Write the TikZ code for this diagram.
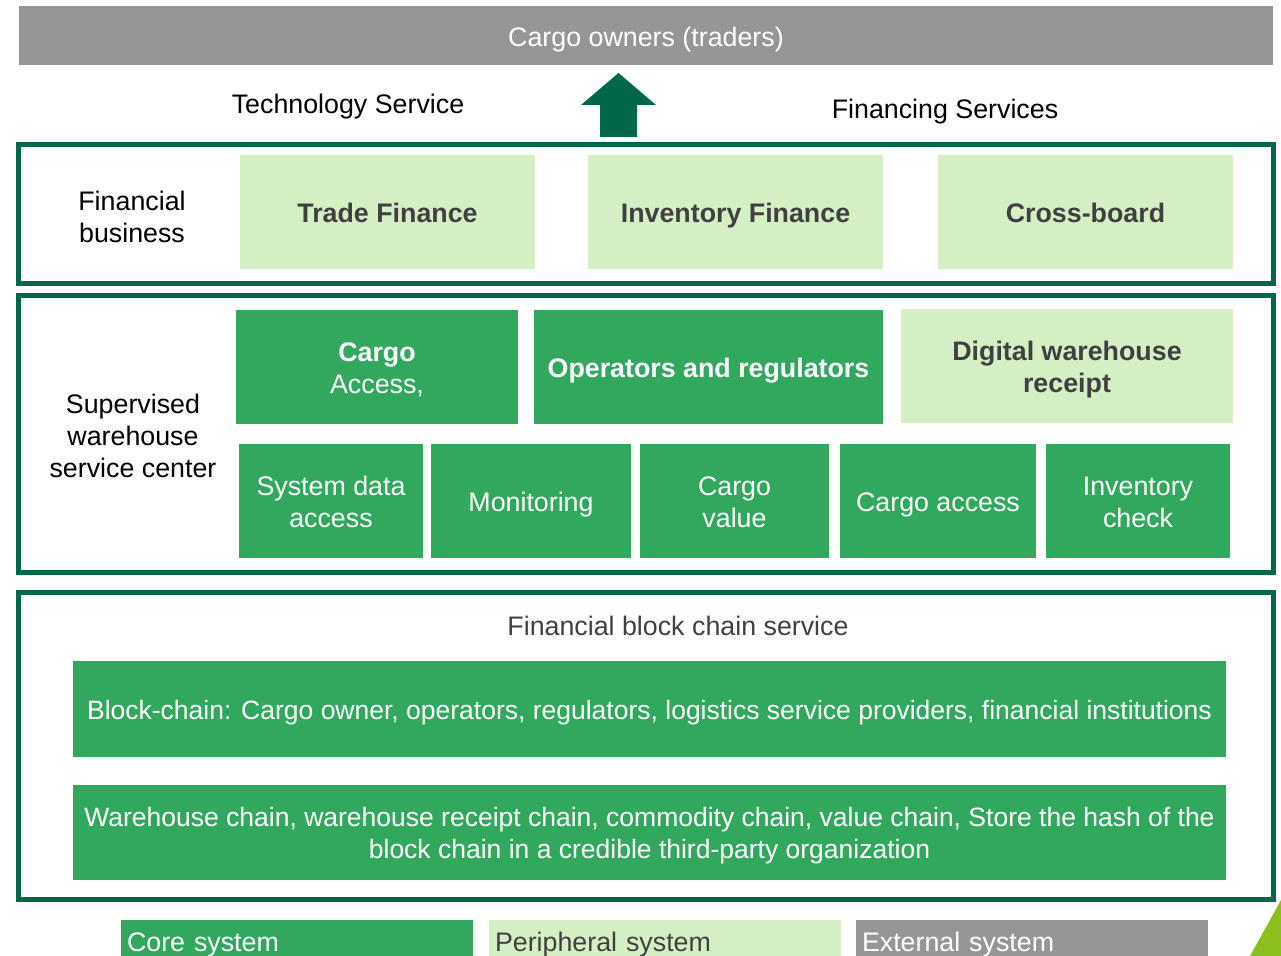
\documentclass[tikz,border=0pt]{standalone}
\usepackage{fontspec}
\setmainfont{Liberation Sans}
\definecolor{coregreen}{HTML}{32A85F}
\definecolor{periphgreen}{HTML}{D4EFC4}
\definecolor{extgray}{HTML}{969696}
\definecolor{framegreen}{HTML}{00684A}
\definecolor{labelgray}{HTML}{404040}
\definecolor{limegreen}{HTML}{8CBE1E}
\newcommand\boxstrut{\rule[-3pt]{0pt}{16.7pt}}
\begin{document}
\begin{tikzpicture}
[x=0.5pt, y=-0.5pt, line width=2.5pt,
every node/.style={font=\fontsize{13.4}{16}\selectfont, align=center, inner sep=0pt, outer sep=0pt,
execute at begin node=\boxstrut, execute at end node=\boxstrut},
twolines/.style={text height=29.5pt},
threelines/.style={text height=45.5pt},
oneline/.style={},
core/.style={fill=coregreen, text=white, minimum height=57pt},
periph/.style={fill=periphgreen, text=labelgray, font=\fontsize{13.4}{16}\selectfont\bfseries, minimum height=57pt},
layer/.style={draw=framegreen},
keybox/.style={anchor=north west, minimum width=176pt, minimum height=20.5pt, inner xsep=3pt, text width=170pt, align=left}]
\useasboundingbox (0,0) rectangle (1281,956);
\clip (0,0) rectangle (1281,956);
% cargo owners
\node[fill=extgray, text=white, minimum width=627pt, minimum height=29.5pt] (owners) at (646,36) {Cargo owners (traders)};
\node (tech) at (348,103) {Technology Service};
\node (financing) at (945,108) {Financing Services};
\fill[framegreen] (600,137) -- (600,105) -- (581,105) -- (618.5,73) -- (656,105) -- (637,105) -- (637,137) -- cycle;
% financial business
\draw[layer] (18.5,144.5) rectangle (1273.5,283.5);
\node[twolines] (finbiz) at (132,216) {Financial\\business};
\foreach \name/\cx/\txt in {trade/387.5/Trade Finance, inventory/735.5/Inventory Finance, cross/1085.5/Cross-board}
\node[periph, minimum width=147.5pt] (\name) at (\cx,212) {\txt};
% supervised warehouse service center
\draw[layer] (18.5,295.5) rectangle (1273.5,573);
\node[threelines] (center) at (133,435) {Supervised\\warehouse\\service center};
\node[core, twolines, minimum width=141pt] (cargo) at (377,367) {\textbf{Cargo}\\Access,};
\node[core, minimum width=174.5pt, font=\fontsize{13.4}{16}\selectfont\bfseries] (operators) at (708.5,367) {Operators and regulators};
\node[periph, twolines, minimum width=166pt] (receipt) at (1067,366) {Digital warehouse\\receipt};
\foreach \name/\cx/\w/\sty/\txt in {sysdata/331/184/twolines/System data\\access, monitor/531/200/oneline/Monitoring,
value/734.5/189/twolines/Cargo\\value, access/938/196/oneline/Cargo access, check/1138/184/twolines/Inventory\\check}
\node[core, \sty, minimum width=\w*0.5pt] (\name) at (\cx,501) {\txt};
% financial block chain service
\draw[layer] (18.5,592.5) rectangle (1273.5,900);
\node[text=labelgray] (chain) at (678,625) {Financial block chain service};
\node[core, minimum width=576.5pt, minimum height=48pt, font=\fontsize{13.25}{16}\selectfont] (members) at (649.5,709)
{Block-chain: Cargo owner, operators, regulators, logistics service providers, financial institutions};
\node[core, twolines, minimum width=576.5pt, minimum height=47.5pt, font=\fontsize{13.25}{16}\selectfont] (chains) at (649.5,832.5)
{Warehouse chain, warehouse receipt chain, commodity chain, value chain, Store the hash of the\\block chain in a credible third-party organization};
% key
\node[keybox, fill=coregreen, text=white] (keycore) at (121,920) {Core system};
\node[keybox, fill=periphgreen, text=labelgray] (keyperiph) at (489,920) {Peripheral system};
\node[keybox, fill=extgray, text=white] (keyext) at (856,920) {External system};
\fill[limegreen] (1250,956) -- (1281,900) -- (1281,956) -- cycle;
\end{tikzpicture}
\end{document}
